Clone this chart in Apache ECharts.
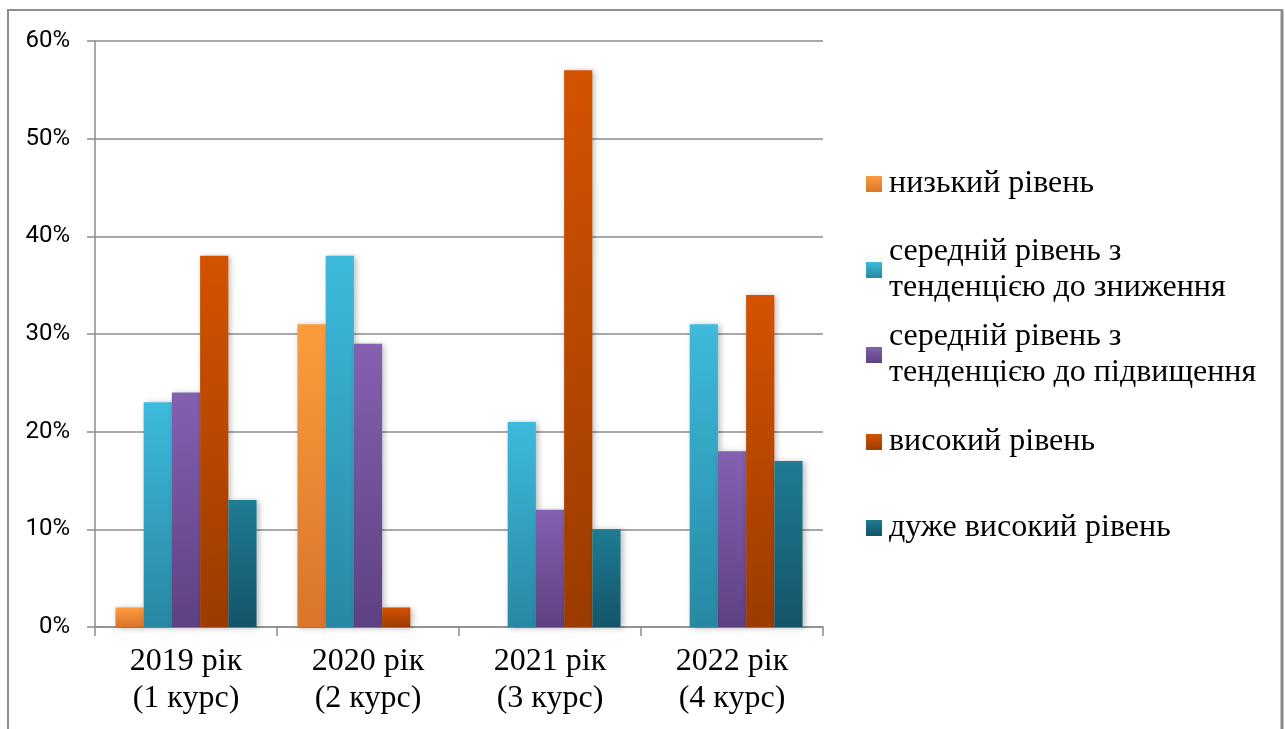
<!DOCTYPE html>
<html>
<head>
<meta charset="utf-8">
<script src="https://cdn.jsdelivr.net/npm/echarts@6/dist/echarts.min.js"></script>
<style>
  html, body { margin: 0; padding: 0; background: #ffffff; }
  #chart { width: 1285px; height: 729px; }
</style>
</head>
<body>
<div id="chart"></div>
<script>
// Academic years (category axis)
const categories = ['2019 рік\n(1 курс)', '2020 рік\n(2 курс)', '2021 рік\n(3 курс)', '2022 рік\n(4 курс)'];

// Level names, one per series
const seriesNames = [
  'низький рівень',
  'середній рівень з\nтенденцією до зниження',
  'середній рівень з\nтенденцією до підвищення',
  'високий рівень',
  'дуже високий рівень'
];

// Share of students (%) per level, by year
const lowLevel        = [2, 31, 0, 0];
const midDecreasing   = [23, 38, 21, 31];
const midIncreasing   = [24, 29, 12, 18];
const highLevel       = [38, 2, 57, 34];
const veryHighLevel   = [13, 0, 10, 17];

// Value axis ticks (%)
const yTicks = [0, 10, 20, 30, 40, 50, 60];

const seriesValues = [lowLevel, midDecreasing, midIncreasing, highLevel, veryHighLevel];

// Vertical gradients for each series: [top, bottom]
const gradients = [
  ['#FD9C3C', '#D9742A'],
  ['#3DBADC', '#2888A3'],
  ['#8461B0', '#5E4182'],
  ['#D45300', '#9B3B00'],
  ['#1F7C93', '#145468']
];

function grad(c) {
  return {
    type: 'linear', x: 0, y: 0, x2: 0, y2: 1,
    colorStops: [{ offset: 0, color: c[0] }, { offset: 1, color: c[1] }]
  };
}

const series = seriesNames.map((name, i) => ({
  name: name,
  type: 'bar',
  data: seriesValues[i],
  barGap: 0,
  barCategoryGap: '22.5%',
  itemStyle: {
    color: grad(gradients[i]),
    shadowBlur: 6,
    shadowColor: 'rgba(0,0,0,0.28)',
    shadowOffsetX: 2,
    shadowOffsetY: 1
  },
  emphasis: { disabled: true }
}));

// Legend rows: vertical centre of each marker
const legendCentres = [184, 270, 355, 442, 528];

const legends = seriesNames.map((name, i) => {
  const twoLines = name.indexOf('\n') >= 0;
  return {
    data: [{ name: name, itemStyle: { shadowBlur: 0, shadowOffsetX: 0, shadowOffsetY: 0 } }],
    orient: 'vertical',
    left: 866,
    top: twoLines ? legendCentres[i] - 54 : legendCentres[i] - 18,
    padding: 0,
    itemWidth: 16,
    itemHeight: 16,
    icon: 'rect',
    selectedMode: false,
    textStyle: {
      fontFamily: '"Liberation Serif", "Times New Roman", serif',
      fontSize: 32,
      lineHeight: 36,
      color: '#000000',
      padding: twoLines ? [36, 0, 0, 2] : [0, 0, 0, 2]
    }
  };
});

const chart = echarts.init(document.getElementById('chart'), null, { renderer: 'canvas' });

chart.setOption({
  backgroundColor: '#ffffff',
  animation: false,
  legend: legends,
  grid: { left: 95, right: 462, top: 41, bottom: 102, containLabel: false },
  xAxis: {
    type: 'category',
    data: categories,
    boundaryGap: true,
    axisLine: { show: true, lineStyle: { color: '#8c8c8c', width: 1.5 } },
    axisTick: { show: true, alignWithLabel: false, length: 9, lineStyle: { color: '#8c8c8c', width: 1.5 } },
    axisLabel: {
      margin: 16,
      color: '#000000',
      fontFamily: '"Liberation Serif", "Times New Roman", serif',
      fontSize: 32,
      lineHeight: 37
    },
    splitLine: { show: false }
  },
  yAxis: {
    type: 'value',
    min: yTicks[0],
    max: yTicks[yTicks.length - 1],
    interval: 10,
    axisLine: { show: true, lineStyle: { color: '#8c8c8c', width: 1.5 } },
    axisTick: { show: true, length: 8, lineStyle: { color: '#8c8c8c', width: 1.5 } },
    axisLabel: {
      margin: 25,
      color: '#000000',
      fontFamily: 'Roboto, "Open Sans", sans-serif',
      fontSize: 24,
      formatter: '{value}%'
    },
    splitLine: { show: true, lineStyle: { color: '#8c8c8c', width: 1.5 } }
  },
  series: series,
  graphic: [
    {
      type: 'rect',
      silent: true,
      shape: { x: 8, y: 10, width: 1274, height: 740 },
      style: { fill: 'none', stroke: '#8e8e8e', lineWidth: 2 }
    },
    {
      type: 'line',
      silent: true,
      shape: { x1: 1282, y1: 10, x2: 1282, y2: 729 },
      style: { stroke: '#8a8a8a', lineWidth: 3 }
    }
  ]
});
</script>
</body>
</html>
